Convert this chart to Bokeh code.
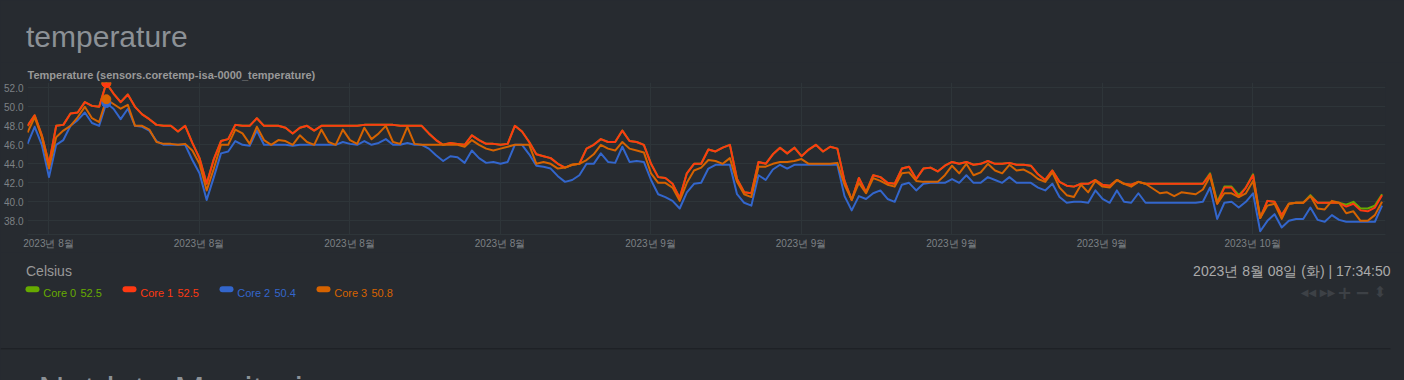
import datetime as dt
from bokeh.plotting import figure
from bokeh.layouts import column
from bokeh.models import (Range1d, FixedTicker, DatetimeTickFormatter,
                          NumeralTickFormatter)
from bokeh.core.properties import value
from bokeh.embed import file_html
from bokeh.resources import INLINE

# ---------------- data (one sample every 8 hours) ----------------
series_names = ["Core 0", "Core 1", "Core 2", "Core 3"]
series_colors = ["#66AA00", "#FE3912", "#3366CC", "#D66300"]

core1 = [48.0, 49.1, 47.0, 44.0, 48.0, 48.1, 49.3, 49.4, 50.5, 50.1,
         50.0, 52.5, 51.4, 50.5, 51.3, 50.0, 49.2, 48.7, 48.1, 48.0,
         48.0, 47.4, 48.0, 46.2, 44.6, 41.9, 44.5, 46.4, 46.6, 48.1,
         48.0, 48.0, 48.8, 48.0, 48.0, 48.0, 47.8, 47.2, 47.8, 48.0,
         47.5, 48.0, 48.0, 48.0, 48.0, 48.0, 48.0, 48.1, 48.1, 48.1,
         48.1, 48.1, 48.0, 48.0, 48.0, 48.0, 47.2, 46.5, 46.0, 46.2,
         46.1, 46.0, 47.0, 46.5, 46.1, 46.1, 46.0, 46.1, 48.0, 47.4,
         46.3, 45.0, 44.8, 44.6, 44.0, 43.6, 43.9, 44.0, 45.6, 46.0,
         46.6, 46.3, 46.3, 47.5, 46.4, 46.3, 46.0, 44.0, 42.6, 42.5,
         41.9, 40.4, 43.0, 44.0, 44.0, 45.5, 45.3, 45.7, 46.0, 42.4,
         41.0, 40.9, 44.2, 44.0, 45.0, 45.7, 45.1, 45.7, 44.8, 45.5,
         46.0, 45.3, 45.8, 45.6, 42.2, 40.2, 42.5, 41.0, 42.8, 42.6,
         42.0, 41.9, 43.5, 43.7, 42.4, 43.5, 43.6, 43.2, 43.8, 44.2,
         44.0, 44.2, 43.9, 44.0, 44.3, 44.0, 44.0, 44.1, 43.9, 43.9,
         43.8, 42.9, 42.3, 43.3, 42.1, 41.7, 41.6, 41.9, 41.9, 42.3,
         41.8, 41.7, 42.3, 41.9, 41.8, 42.1, 41.9, 41.9, 41.9, 41.9,
         41.9, 41.9, 41.9, 41.9, 41.9, 42.9, 39.8, 41.5, 41.5, 40.5,
         41.5, 42.8, 38.3, 40.1, 40.0, 38.6, 39.8, 39.9, 39.9, 40.6,
         39.9, 39.9, 39.9, 39.9, 39.5, 39.8, 39.1, 39.0, 39.4, 40.7]

core0 = [48.0, 49.1, 47.0, 44.0, 48.0, 48.1, 49.3, 49.4, 50.5, 50.1,
         50.0, 52.5, 51.4, 50.5, 51.3, 50.0, 49.2, 48.7, 48.1, 48.0,
         48.0, 47.4, 48.0, 46.2, 44.6, 41.9, 44.5, 46.4, 46.6, 48.1,
         48.0, 48.0, 48.8, 48.0, 48.0, 48.0, 47.8, 47.2, 47.8, 48.0,
         47.5, 48.0, 48.0, 48.0, 48.0, 48.0, 48.0, 48.1, 48.1, 48.1,
         48.1, 48.1, 48.0, 48.0, 48.0, 48.0, 47.2, 46.5, 46.0, 46.2,
         46.1, 46.0, 47.0, 46.5, 46.1, 46.1, 46.0, 46.1, 48.0, 47.4,
         46.3, 45.0, 44.8, 44.6, 44.0, 43.6, 43.9, 44.0, 45.6, 46.0,
         46.6, 46.3, 46.3, 47.5, 46.4, 46.3, 46.0, 44.0, 42.6, 42.5,
         41.9, 40.4, 43.0, 44.0, 44.0, 45.5, 45.3, 45.7, 46.0, 42.4,
         41.0, 40.9, 44.2, 44.0, 45.0, 45.7, 45.1, 45.7, 44.8, 45.5,
         46.0, 45.3, 45.8, 45.6, 42.2, 40.2, 42.5, 41.0, 42.8, 42.6,
         42.0, 41.9, 43.5, 43.7, 42.4, 43.5, 43.6, 43.2, 43.8, 44.2,
         44.0, 44.2, 43.9, 44.0, 44.3, 44.0, 44.0, 44.1, 43.9, 43.9,
         43.8, 42.9, 42.3, 43.3, 42.1, 41.7, 41.6, 41.9, 41.9, 42.3,
         41.8, 41.7, 42.3, 41.9, 41.8, 42.1, 41.9, 41.9, 41.9, 41.9,
         41.9, 41.9, 41.9, 41.9, 41.9, 43.0, 40.0, 41.6, 41.6, 40.7,
         41.5, 42.9, 38.3, 40.1, 40.0, 38.6, 39.8, 39.9, 39.9, 40.7,
         39.9, 39.9, 39.9, 39.9, 39.7, 40.0, 39.3, 39.3, 39.6, 40.8]

core2 = [46.1, 47.9, 46.0, 42.6, 46.0, 46.5, 48.0, 48.6, 49.4, 48.3,
         48.0, 50.4, 49.8, 48.7, 49.8, 48.0, 47.9, 47.5, 46.4, 46.0,
         46.0, 46.0, 46.0, 44.4, 43.0, 40.2, 42.6, 45.1, 45.3, 46.4,
         46.0, 45.9, 47.5, 46.0, 46.0, 46.0, 46.0, 45.9, 46.0, 46.0,
         46.0, 46.0, 46.0, 46.0, 46.3, 46.1, 46.0, 46.4, 46.0, 46.2,
         46.6, 46.0, 46.0, 46.2, 46.0, 46.0, 45.6, 44.9, 44.3, 44.8,
         44.7, 44.1, 45.4, 44.6, 44.1, 44.2, 44.0, 44.2, 46.0, 46.0,
         45.0, 43.8, 43.7, 43.5, 42.7, 42.1, 42.3, 42.8, 44.0, 44.0,
         45.1, 44.2, 44.1, 45.8, 44.2, 44.3, 44.2, 42.3, 40.8, 40.5,
         40.1, 39.3, 41.0, 41.9, 42.0, 43.5, 43.9, 43.9, 43.9, 40.8,
         39.9, 39.6, 42.8, 42.3, 43.4, 43.9, 43.5, 43.9, 43.9, 43.9,
         43.9, 43.9, 43.9, 43.9, 40.6, 39.1, 40.6, 40.3, 40.9, 41.2,
         40.3, 40.0, 41.8, 42.0, 41.2, 41.9, 42.0, 42.0, 42.0, 42.4,
         42.0, 42.8, 42.0, 42.0, 42.6, 42.3, 42.0, 42.6, 42.0, 42.0,
         42.0, 41.5, 41.2, 41.9, 40.5, 39.9, 40.0, 40.0, 39.9, 41.2,
         40.3, 39.9, 41.2, 40.0, 39.9, 40.9, 39.9, 39.9, 39.9, 39.9,
         39.9, 39.9, 39.9, 39.9, 40.0, 41.5, 38.2, 39.9, 40.0, 39.4,
         40.0, 40.9, 36.9, 38.0, 38.7, 37.3, 38.0, 38.2, 38.2, 39.4,
         38.1, 37.9, 38.6, 38.1, 37.9, 37.9, 37.9, 37.9, 37.9, 39.6]

core3 = [47.3, 48.9, 46.8, 43.5, 46.8, 47.5, 48.0, 48.9, 50.0, 48.8,
         48.4, 50.8, 50.3, 49.8, 50.2, 48.0, 48.0, 47.6, 46.3, 46.1,
         46.1, 46.0, 46.1, 45.4, 44.0, 41.2, 43.5, 46.0, 46.0, 47.6,
         47.2, 46.1, 47.9, 46.5, 46.0, 46.5, 46.4, 46.0, 47.0, 46.3,
         46.0, 47.6, 46.3, 46.0, 47.6, 46.5, 46.1, 47.8, 46.6, 47.2,
         48.0, 46.3, 46.1, 47.9, 46.1, 46.0, 46.0, 46.0, 46.0, 46.0,
         46.0, 45.8, 46.5, 46.0, 45.6, 45.4, 45.6, 45.8, 46.0, 46.0,
         46.0, 44.0, 44.2, 44.0, 43.5, 43.6, 43.9, 44.0, 44.4, 45.0,
         46.0, 45.6, 45.4, 46.3, 45.6, 45.4, 45.2, 43.0, 42.0, 42.0,
         41.5, 40.1, 42.0, 43.3, 43.6, 44.4, 44.3, 44.0, 44.6, 42.1,
         40.8, 40.5, 43.7, 43.7, 44.0, 44.2, 44.2, 44.3, 44.5, 44.0,
         44.0, 44.0, 44.0, 44.1, 41.8, 40.2, 42.0, 40.9, 42.5, 42.2,
         41.8, 41.6, 43.0, 43.1, 42.2, 42.1, 42.1, 42.1, 42.8, 43.8,
         43.0, 44.0, 42.8, 43.1, 44.0, 43.3, 43.0, 43.9, 43.3, 43.4,
         43.0, 42.4, 42.1, 43.1, 41.5, 40.7, 40.5, 41.8, 41.0, 42.2,
         41.6, 41.5, 42.3, 41.9, 41.6, 42.1, 41.9, 41.4, 40.9, 41.0,
         40.6, 41.0, 40.9, 40.8, 41.3, 42.7, 39.8, 40.9, 40.9, 40.5,
         40.9, 42.2, 38.3, 39.6, 39.8, 38.2, 39.8, 39.9, 39.9, 40.6,
         39.3, 39.2, 40.1, 39.9, 38.8, 39.0, 38.0, 38.0, 38.6, 40.0]

series_values = [core0, core1, core2, core3]

START = dt.datetime(2023, 8, 5, 0, 30)
STEP_HOURS = 8
SPAN_DAYS = 63.16
times = [START + dt.timedelta(hours=STEP_HOURS * i) for i in range(len(core1))]
HOVER_INDEX = 11

x_tick_dates = [dt.datetime(2023, 8, 6), dt.datetime(2023, 8, 13), dt.datetime(2023, 8, 20),
                dt.datetime(2023, 8, 27), dt.datetime(2023, 9, 3), dt.datetime(2023, 9, 10),
                dt.datetime(2023, 9, 17), dt.datetime(2023, 9, 24), dt.datetime(2023, 10, 1)]
x_tick_format = "%Y년 %-m월"
y_ticks = [38, 40, 42, 44, 46, 48, 50, 52]
Y_MIN, Y_MAX = 36.56, 52.56

page_title = "temperature"
chart_title = "Temperature (sensors.coretemp-isa-0000_temperature)"
units_text = "Celsius"
hover_text = "2023년 8월 08일 (화) | 17:34:50"
footer_text = "Netdata Monitoring"

# ---------------- layout ----------------
W = 1404
H_TOP, H_CHART, H_BOT = 62, 190, 128
FL, FR = 27, 1385          # chart frame left/right on the page
CHART_TOP_BORDER = 20      # chart title sits here, frame starts at page y 82
CHART_BOTTOM_BORDER = 18   # room for the date labels under the frame
BG = "#272b30"
GRID = "#2e3539"
FONT = "Liberation Sans"

epoch = dt.datetime(1970, 1, 1)
to_ms = lambda d: (d - epoch).total_seconds() * 1000.0


def no_align(f):
    if "frame_align" in f.properties():
        f.frame_align = False
    return f


def canvas_figure(h):
    f = figure(width=W, height=h, output_backend="svg", toolbar_location=None,
               title=None, x_range=Range1d(0, W), y_range=Range1d(h, 0),
               x_axis_location=None, y_axis_location=None,
               min_border_left=0, min_border_right=0, min_border_top=0, min_border_bottom=0)
    f.background_fill_color = BG
    f.border_fill_color = BG
    f.outline_line_color = None
    f.xgrid.visible = False
    f.ygrid.visible = False
    return no_align(f)


def put_text(f, text, px, py, size, color, align="left", baseline="alphabetic",
             style="normal", font=FONT):
    f.text(x=[px], y=[py], text=[text], text_font=value(font), text_font_size=value(size),
           text_color=color, text_align=align, text_baseline=baseline,
           text_font_style=style)


# --- top strip: page title ---
top = canvas_figure(H_TOP)
put_text(top, page_title, 25.5, 36, "30px", "#8c9196")

# --- chart (its title sits above the frame) ---
p = figure(width=W, height=H_CHART, output_backend="svg", toolbar_location=None,
           x_axis_type="datetime", title=chart_title,
           x_range=Range1d(START, START + dt.timedelta(days=SPAN_DAYS)),
           y_range=Range1d(Y_MIN, Y_MAX),
           min_border_left=FL, min_border_right=W - FR,
           min_border_top=CHART_TOP_BORDER, min_border_bottom=CHART_BOTTOM_BORDER)
no_align(p)
p.title.text_font = FONT
p.title.text_font_size = "11px"
p.title.text_font_style = "bold"
p.title.text_color = "#999999"
p.title.align = "left"
p.title.offset = 0
p.title.standoff = 3
p.background_fill_color = BG
p.border_fill_color = BG
p.outline_line_color = None

p.xaxis.ticker = FixedTicker(ticks=[to_ms(d) for d in x_tick_dates])
p.xaxis.formatter = DatetimeTickFormatter(
    microseconds=x_tick_format, milliseconds=x_tick_format, seconds=x_tick_format,
    minsec=x_tick_format, minutes=x_tick_format, hourmin=x_tick_format,
    hours=x_tick_format, days=x_tick_format, months=x_tick_format, years=x_tick_format)
p.yaxis.ticker = FixedTicker(ticks=y_ticks)
p.yaxis.formatter = NumeralTickFormatter(format="0.0")

for ax in (p.xaxis[0], p.yaxis[0]):
    ax.major_label_text_font = FONT
    ax.major_label_text_font_size = "10px"
    ax.major_label_text_color = "#7d8185"
    ax.major_tick_line_color = None
    ax.minor_tick_line_color = None
    ax.major_tick_out = 0
    ax.major_tick_in = 0
p.xaxis.axis_line_color = GRID
p.yaxis.axis_line_color = None
p.xaxis.major_label_standoff = 3
p.yaxis.major_label_standoff = 4

p.xgrid.grid_line_color = GRID
p.ygrid.grid_line_color = GRID

for vals, col in zip(series_values, series_colors):
    p.line(times, vals, line_color=col, line_width=2, line_join="round")

for vals, col in zip(series_values, series_colors):
    p.scatter([times[HOVER_INDEX]], [vals[HOVER_INDEX]], size=9,
              fill_color=col, line_color=col)

# --- bottom strip: units, legend, hover time, navigation icons, footer ---
OY = H_TOP + H_CHART      # page y of the strip's top
bot = canvas_figure(H_BOT)
put_text(bot, units_text, 25.5, 270 - OY, "14px", "#999999")
put_text(bot, hover_text, 1390, 270 - OY, "14px", "#aaaaaa", align="right")

for k, (name, vals, col) in enumerate(zip(series_names, series_values, series_colors)):
    x0 = 25 + 97 * k
    bot.segment(x0=[x0 + 3], y0=[288.7 - OY], x1=[x0 + 11], y1=[288.7 - OY],
                line_color=col, line_width=6, line_cap="round")
    put_text(bot, name, x0 + 17.7, 292.3 - OY, "11px", col)
    put_text(bot, f"{vals[HOVER_INDEX]:.1f}", x0 + 55, 292.3 - OY, "11px", col)

ICON = "#3d4146"
put_text(bot, "◀◀", 1308, 291.5 - OY, "10px", ICON, align="center", baseline="middle", font="DejaVu Sans")
put_text(bot, "▶▶", 1327, 291.5 - OY, "10px", ICON, align="center", baseline="middle", font="DejaVu Sans")
put_text(bot, "+", 1344, 291.5 - OY, "18px", ICON, align="center", baseline="middle", style="bold", font="DejaVu Sans")
put_text(bot, "−", 1362, 291.5 - OY, "18px", ICON, align="center", baseline="middle", style="bold", font="DejaVu Sans")
put_text(bot, "⬍", 1379.5, 291.5 - OY, "15px", ICON, align="center", baseline="middle", font="DejaVu Sans")

bot.segment(x0=[0], y0=[348.3 - OY], x1=[1390], y1=[348.3 - OY], line_color="#1c1f23", line_width=1)
# anchored at the top of its glyph box so that the renderer keeps it (only its top shows)
put_text(bot, footer_text, 38, 369.4 - OY, "36px", "#8c9196", baseline="top")

root = column(top, p, bot, spacing=0,
              styles={"position": "absolute", "left": "0px", "top": "0px",
                      "background-color": BG})
open("out.html", "w").write(file_html(root, INLINE))
